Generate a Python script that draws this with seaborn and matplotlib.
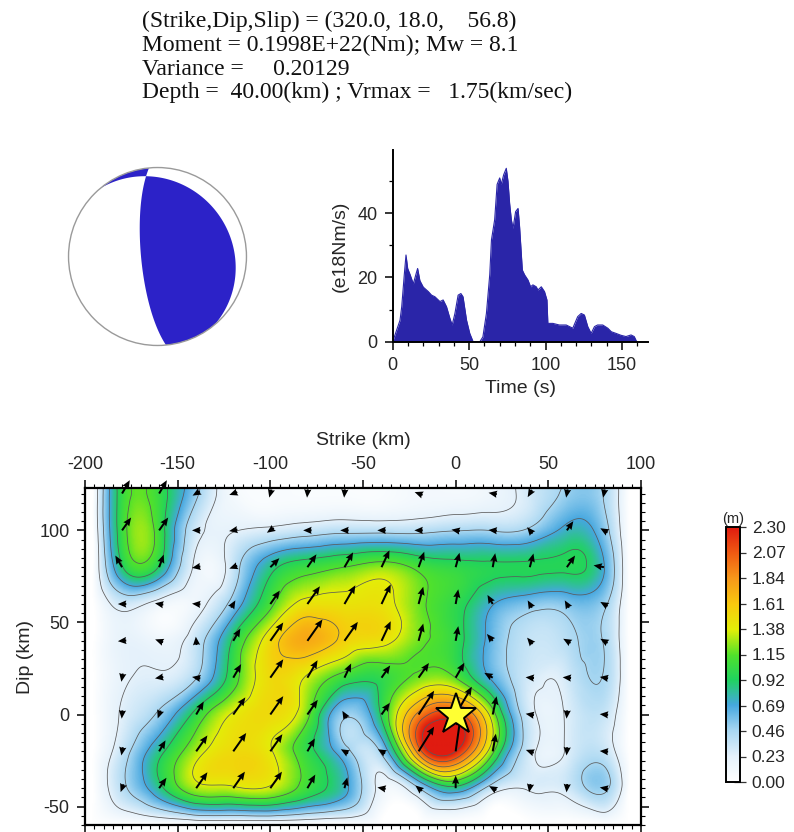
import numpy as np
import matplotlib
matplotlib.use("Agg")
import matplotlib.pyplot as plt
import matplotlib.tri as mtri
from matplotlib.colors import LinearSegmentedColormap, Normalize
from matplotlib.cm import ScalarMappable
from matplotlib.ticker import MultipleLocator, FixedLocator
from matplotlib.patches import Circle
import seaborn as sns

sns.set_theme(style="white")
plt.rcParams["font.family"] = ["Liberation Sans", "DejaVu Sans"]
plt.rcParams["axes.unicode_minus"] = False

# ---------------- event summary ----------------
fault_strike, fault_dip, fault_rake = 320.0, 18.0, 56.8
header_lines = [
    "(Strike,Dip,Slip) = (320.0, 18.0,    56.8)",
    "Moment = 0.1998E+22(Nm); Mw = 8.1",
    "Variance =     0.20129",
    "Depth =  40.00(km) ; Vrmax =   1.75(km/sec)",
]

# ---------------- source time function (e18 Nm/s) ----------------
stf_time = [0, 2.5, 4.8, 5.9, 7.6, 8.7, 9.8, 11.3, 13.5, 15.2, 16.3, 17.8, 20.0,
            23.3, 25.4, 27.6, 30.9, 33.0, 35.2, 37.4, 38.9, 40.7, 42.8, 44.6, 46.0,
            48.3, 50.4, 52.6, 57.0, 59.0, 61.3, 63.5, 64.6, 66.7, 68.3, 70.0, 71.0,
            72.6, 74.3, 75.4, 76.5, 77.6, 78.7, 80.4, 82.0, 83.0, 84.8, 86.3, 88.5,
            90.2, 91.7, 93.9, 95.0, 97.2, 99.3, 100.9, 101.5, 104.8, 109.0, 113.5,
            117.8, 121.0, 123.3, 125.4, 127.6, 129.8, 132.0, 134.0, 137.4, 140.7,
            143.0, 146.0, 149.3, 152.6, 155.9, 158.0, 159.6]
stf_rate = [0, 3.5, 6.7, 10.9, 21.0, 27.0, 22.8, 21.0, 18.0, 21.0, 22.8, 19.0, 17.0,
            15.6, 14.5, 14.0, 12.5, 13.0, 10.9, 7.3, 5.2, 8.8, 14.5, 15.0, 14.0,
            6.7, 2.6, 0.0, 0.0, 1.5, 8.8, 21.0, 31.7, 38.0, 49.0, 51.0, 49.0,
            52.0, 54.0, 50.0, 43.0, 38.0, 35.3, 40.5, 41.5, 35.8, 22.3, 20.8, 19.2,
            17.1, 17.7, 17.1, 16.1, 17.1, 15.6, 13.0, 5.7, 5.7, 5.2, 5.2,
            4.2, 7.8, 8.8, 8.3, 4.7, 2.6, 4.7, 5.2, 5.2, 4.2,
            3.1, 2.6, 2.0, 1.6, 2.1, 1.6, 0.0]

# ---------------- slip model on the fault grid ----------------
strike_km = [-180, -160, -140, -120, -100, -80, -60, -40, -20, 0, 20, 40, 60, 80]
dip_km = [-40, -20, 0, 20, 40, 60, 80, 100, 120]
# slip (m), one row per dip position (bottom to top), columns along strike
slip_m = [
    [0.40, 0.85, 1.30, 1.35, 1.35, 1.05, 0.75, 0.15, 0.45, 0.85, 0.35, 0.25, 0.30, 0.50],
    [0.35, 0.85, 1.30, 1.50, 1.40, 1.00, 0.55, 0.50, 1.95, 2.30, 1.20, 0.30, 0.25, 0.35],
    [0.25, 0.50, 1.00, 1.40, 1.50, 1.20, 0.50, 0.95, 1.90, 2.15, 1.25, 0.30, 0.25, 0.35],
    [0.20, 0.25, 0.45, 1.05, 1.50, 1.35, 1.05, 1.00, 1.20, 1.15, 0.65, 0.30, 0.30, 0.45],
    [0.20, 0.15, 0.35, 0.95, 1.50, 1.75, 1.55, 1.45, 1.20, 1.00, 0.60, 0.35, 0.40, 0.45],
    [0.30, 0.15, 0.15, 0.55, 1.10, 1.45, 1.45, 1.45, 1.20, 1.00, 0.70, 0.55, 0.55, 0.50],
    [0.90, 0.90, 0.18, 0.35, 0.85, 1.05, 1.15, 1.25, 1.10, 1.00, 0.95, 0.95, 0.95, 0.70],
    [1.05, 1.05, 0.30, 0.22, 0.28, 0.35, 0.40, 0.40, 0.40, 0.45, 0.45, 0.50, 0.75, 0.55],
    [1.03, 1.03, 0.50, 0.10, 0.05, 0.05, 0.05, 0.05, 0.10, 0.10, 0.15, 0.30, 0.50, 0.45],
]
# slip direction in the fault plane (degrees, counter-clockwise from +strike)
nan = np.nan
rake_deg = [
    [250, 55, 55, 55, 55, 60, 75, 170, 140, 90, 150, 260, 265, 170],
    [260, 60, 55, 55, 55, 60, 150, 150, 58, 82, 80, 160, 265, 175],
    [265, 250, 60, 55, 55, 55, 120, 55, 57, 60, 78, 170, 265, 175],
    [260, 190, 170, 60, 55, 60, 65, 55, 55, 60, 150, 175, 175, 170],
    [185, 160, 95, 60, 55, 55, 55, 65, 75, 80, 130, 130, 150, 150],
    [180, 170, 175, 60, 55, 55, 60, 65, 75, 80, 120, 120, 120, 150],
    [120, 70, 190, 200, 45, 55, 60, 65, 70, 75, 80, 75, 55, 170],
    [55, 55, 180, 190, 215, 180, 180, 180, 180, 170, 175, 130, 55, 150],
    [60, 60, 210, 200, 255, 265, 265, nan, 160, nan, 170, 240, 260, 260],
]
hypo_strike, hypo_dip = 0.0, 0.0

slip_levels = [0.00, 0.23, 0.46, 0.69, 0.92, 1.15, 1.38, 1.61, 1.84, 2.07, 2.30]
slip_colors = ["#ffffff", "#e4f1fb", "#a8d7f2", "#45a7df", "#20d35e",
               "#52e22a", "#e3ee08", "#f8c80e", "#f7981a", "#f05a12", "#e01b10"]

# ---------------- figure layout (pixel boxes) ----------------
W, H = 794, 832
fig = plt.figure(figsize=(W / 100, H / 100), dpi=100)
fig.patch.set_facecolor("white")


def box(x0, y0, x1, y1):
    return [x0 / W, 1 - y1 / H, (x1 - x0) / W, (y1 - y0) / H]


# header text
for i, line in enumerate(header_lines):
    fig.text(142 / W, 1 - (27 + 23.8 * i) / H, line, ha="left", va="baseline",
             fontsize=17.0, family=["Liberation Serif", "DejaVu Serif"], color="#111111")

# ---------------- focal mechanism ----------------
axb = fig.add_axes(box(65.5, 164.5, 249.5, 348.5))
axb.set_xlim(-1.034, 1.034)
axb.set_ylim(-1.034, 1.034)
axb.set_aspect("equal")
axb.axis("off")

s, d, r = np.radians([fault_strike, fault_dip, fault_rake])
normal = np.array([-np.sin(d) * np.sin(s), np.sin(d) * np.cos(s), -np.cos(d)])
slipv = np.array([np.cos(r) * np.cos(s) + np.sin(r) * np.cos(d) * np.sin(s),
                  np.cos(r) * np.sin(s) - np.sin(r) * np.cos(d) * np.cos(s),
                  -np.sin(r) * np.sin(d)])
g = np.linspace(-1, 1, 801)
PX, PY = np.meshgrid(g, g)                 # east, north on the lower hemisphere
PR = np.hypot(PX, PY)
inc = 2 * np.arcsin(np.clip(PR / np.sqrt(2), 0, 1))   # equal-area projection
azi = np.arctan2(PX, PY)
ray = np.stack([np.sin(inc) * np.cos(azi), np.sin(inc) * np.sin(azi), np.cos(inc)])
amp = np.tensordot(normal, ray, 1) * np.tensordot(slipv, ray, 1)
amp = np.where(PR <= 1.0, amp, np.nan)
axb.contourf(PX, PY, amp, levels=[0, 10], colors=["#2c22c8"], antialiased=True)
axb.add_patch(Circle((0, 0), 1.0, fill=False, ec="#9a9a9a", lw=1.0))

# ---------------- moment rate function ----------------
axs = fig.add_axes(box(392.7, 150, 648, 341.7))
axs.fill_between(stf_time, stf_rate, 0, color="#2a25a8", lw=0)
sns.lineplot(x=stf_time, y=stf_rate, ax=axs, color="#2a25a8", lw=0.8)
axs.set_xlim(0, 167)
axs.set_ylim(0, 59.7)
sns.despine(ax=axs)
for sp in ("left", "bottom"):
    axs.spines[sp].set_linewidth(1.4)
    axs.spines[sp].set_color("black")
axs.xaxis.set_major_locator(FixedLocator([0, 50, 100, 150]))
axs.xaxis.set_minor_locator(MultipleLocator(10))
axs.yaxis.set_major_locator(FixedLocator([0, 20, 40]))
axs.yaxis.set_minor_locator(FixedLocator([10, 30, 50]))
axs.tick_params(which="major", direction="out", length=6, width=1.1, color="black",
                labelsize=13, pad=5, bottom=True, left=True)
axs.tick_params(which="minor", direction="out", length=3, width=0.9, color="black",
                bottom=True, left=True)
axs.set_xlabel("Time (s)", fontsize=14, labelpad=4)
axs.set_ylabel("(e18Nm/s)", fontsize=14, labelpad=6)
axs.set_facecolor("none")

# ---------------- slip distribution ----------------
slip = np.array(slip_m)
xs = np.array(strike_km, float)
ys = np.array(dip_km, float)
# zero slip beyond the fault edges, top row continued past the frame
xe = np.concatenate([[-196.0], xs, [94.0]])
ye = np.concatenate([[-60.0], ys, [132.0]])
ze = np.zeros((len(ye), len(xe)))
ze[1:-1, 1:-1] = slip
ze[-1, 1:-1] = slip[-1]
GX, GY = np.meshgrid(xe, ye)
tri = mtri.Triangulation(GX.ravel(), GY.ravel())
interp = mtri.CubicTriInterpolator(tri, ze.ravel(), kind="min_E")
fx = np.linspace(-200, 100, 601)
fy = np.linspace(-60, 123, 367)
FX, FY = np.meshgrid(fx, fy)
field = interp(FX, FY)
field = np.ma.masked_invalid(np.ma.filled(field, np.nan))

cmap = LinearSegmentedColormap.from_list(
    "slip", [(v / 2.3, c) for v, c in zip(slip_levels, slip_colors)])
cmap.set_under("white")
cmap.set_over(slip_colors[-1])
cmap.set_bad("white")
norm = Normalize(0, 2.3)

ax_box = box(85, 488, 641, 825)
ax = fig.add_axes(ax_box)
ax.imshow(np.clip(field, -0.01, 2.31), extent=(-200, 100, -60, 123), origin="lower",
          cmap=cmap, norm=norm, interpolation="bilinear", aspect="auto", zorder=1)
ax.contour(FX, FY, field, levels=slip_levels[1:], colors="#5a5a5a",
           linewidths=0.55, zorder=2)

# slip vectors: tail on the sub-fault, length proportional to slip;
# vectors shorter than the arrow head are drawn as a bare head
km_per_m = 8.1
shaft_w = 0.0036
head_l, head_w, head_al = 4.2, 3.6, 3.8
px_per_km = ax_box[2] * W / 300.0
head_km = head_l * shaft_w * ax_box[2] * W / px_per_km

QX, QY = np.meshgrid(xs, ys)
ang = np.radians(np.array(rake_deg, float))
ok = np.isfinite(ang)
long_vec = ok & (slip * km_per_m >= head_km)
short_vec = ok & ~long_vec
arrow_style = dict(angles="xy", scale_units="xy", color="black", width=shaft_w,
                   headwidth=head_w, headlength=head_l, headaxislength=head_al,
                   minshaft=0, minlength=0, zorder=4, clip_on=False)
ax.quiver(QX[long_vec], QY[long_vec],
          (slip * np.cos(ang))[long_vec], (slip * np.sin(ang))[long_vec],
          scale=1 / km_per_m, pivot="tail", **arrow_style)
ax.quiver(QX[short_vec], QY[short_vec],
          (head_km * np.cos(ang))[short_vec], (head_km * np.sin(ang))[short_vec],
          scale=1.0, pivot="middle", **arrow_style)

ax.plot([hypo_strike], [hypo_dip], marker="*", ms=31, mfc="#ffff33", mec="black",
        mew=1.4, zorder=5)

ax.set_xlim(-200, 100)
ax.set_ylim(-60, 123)
ax.xaxis.set_major_locator(MultipleLocator(50))
ax.xaxis.set_minor_locator(MultipleLocator(5))
ax.yaxis.set_major_locator(MultipleLocator(50))
ax.yaxis.set_minor_locator(MultipleLocator(5))
ax.tick_params(which="both", direction="out", top=True, bottom=True, left=True,
               right=True, labeltop=True, labelbottom=False, labelleft=True,
               labelright=False, color="black")
ax.tick_params(which="major", length=6, width=1.1, labelsize=13, pad=5)
ax.tick_params(which="minor", length=3, width=0.8)
ax.xaxis.set_label_position("top")
ax.set_xlabel("Strike (km)", fontsize=14, labelpad=8)
ax.set_ylabel("Dip (km)", fontsize=14, labelpad=4)
for sp in ax.spines.values():
    sp.set_linewidth(1.6)
    sp.set_color("black")

# colour scale
cax = fig.add_axes(box(726, 527, 740, 782))
cb = fig.colorbar(ScalarMappable(norm=norm, cmap=cmap), cax=cax)
cb.set_ticks(slip_levels)
cb.set_ticklabels([f"{v:.2f}" for v in slip_levels])
cb.outline.set_linewidth(1.4)
cb.outline.set_edgecolor("black")
cax.tick_params(direction="inout", length=9, width=0.9, labelsize=12.5, pad=4,
                color="#333333")
cax.set_title("(m)", fontsize=10.5, pad=3)

fig.savefig("out.png", dpi=100, facecolor="white")
